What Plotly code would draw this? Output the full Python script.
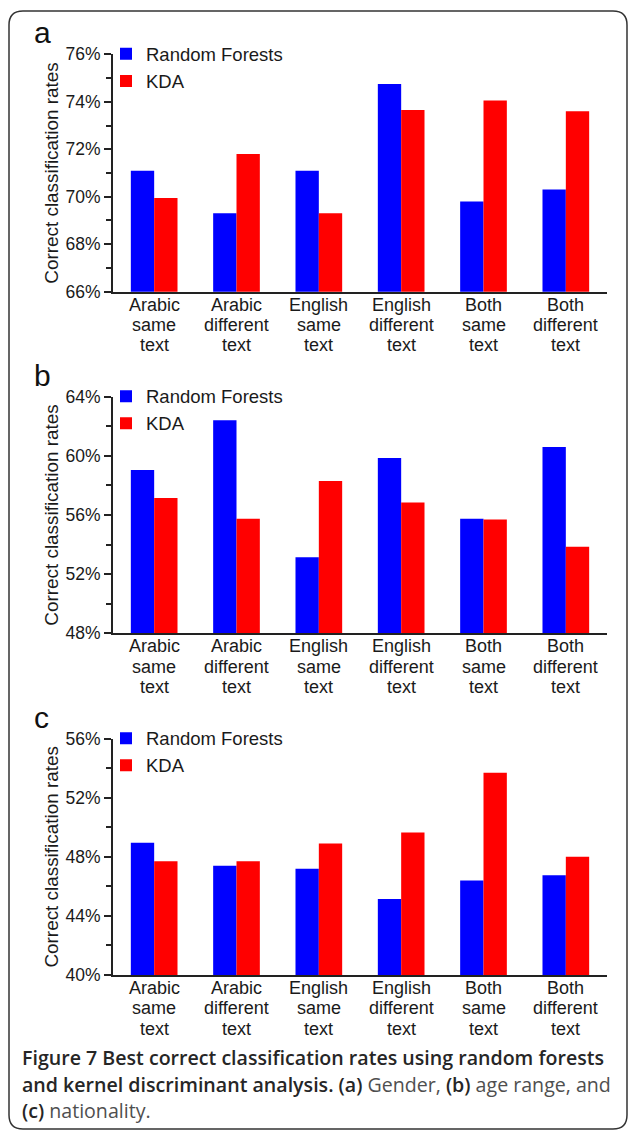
import plotly.graph_objects as go

W, H = 629, 1131

categories = ["Arabic same text", "Arabic different text", "English same text",
              "English different text", "Both same text", "Both different text"]
label_lines = [["Arabic", "same", "text"], ["Arabic", "different", "text"],
               ["English", "same", "text"], ["English", "different", "text"],
               ["Both", "same", "text"], ["Both", "different", "text"]]

series_names = ["Random Forests", "KDA"]
colors = ["#0000FF", "#FF0000"]

# (a) Gender
gender_rf = [71.1, 69.3, 71.1, 74.75, 69.8, 70.3]
gender_kda = [69.95, 71.8, 69.3, 73.65, 74.05, 73.6]
# (b) Age range
age_rf = [59.05, 62.4, 53.15, 59.85, 55.75, 60.6]
age_kda = [57.15, 55.75, 58.3, 56.85, 55.7, 53.85]
# (c) Nationality
nat_rf = [48.95, 47.4, 47.2, 45.15, 46.4, 46.75]
nat_kda = [47.7, 47.7, 48.9, 49.65, 53.7, 48.0]

panel_letters = ["a", "b", "c"]
y_ranges = [[66, 76], [48, 64], [40, 56]]
major_dticks = [2, 4, 4]
minor_dticks = [1, 2, 2]
panels = [(gender_rf, gender_kda), (age_rf, age_kda), (nat_rf, nat_kda)]

def py(p):
    return 1 - p / H

def px(p):
    return p / W

x_dom = [px(113), px(607)]
y_doms = [[py(291.7), py(54.3)], [py(633.3), py(396.7)], [py(975), py(738.7)]]

fig = go.Figure()
font_main = "Liberation Sans, Arial, sans-serif"
ink = "#1a1a1a"

for i, (rf, kda) in enumerate(panels):
    sfx = "" if i == 0 else str(i + 1)
    leg = "legend" if i == 0 else "legend" + str(i + 1)
    for name, vals, col in zip(series_names, (rf, kda), colors):
        fig.add_trace(go.Bar(
            x=categories, y=vals, name=name, marker=dict(color=col, line=dict(width=0)),
            xaxis="x" + sfx, yaxis="y" + sfx, legend=leg, showlegend=True,
            hoverinfo="x+y",
        ))

layout = dict(
    width=W, height=H, margin=dict(l=0, r=0, t=0, b=0, autoexpand=False),
    paper_bgcolor="white", plot_bgcolor="white",
    barmode="group", bargap=0.433, bargroupgap=0,
    font=dict(family=font_main, color=ink, size=18),
    showlegend=True,
)

annotations = []
for i in range(3):
    sfx = "" if i == 0 else str(i + 1)
    layout["xaxis" + sfx] = dict(
        domain=x_dom, anchor="y" + sfx, type="category",
        categoryorder="array", categoryarray=categories,
        range=[-0.5, 5.5], showticklabels=False, ticks="",
        showline=True, linecolor="#222222", linewidth=2, showgrid=False,
        zeroline=False, fixedrange=True,
    )
    layout["yaxis" + sfx] = dict(
        domain=y_doms[i], anchor="x" + sfx, range=y_ranges[i],
        dtick=major_dticks[i], tick0=y_ranges[i][0], ticksuffix="%",
        ticks="outside", ticklen=7, tickwidth=1.5, tickcolor="#222222",
        minor=dict(ticks="outside", dtick=minor_dticks[i], tick0=y_ranges[i][0],
                   ticklen=5, tickwidth=1.5, tickcolor="#222222", showgrid=False),
        showline=True, linecolor="#222222", linewidth=2, showgrid=False,
        zeroline=False, tickfont=dict(size=17.5, color=ink, family=font_main),
        title=dict(text="Correct classification rates", standoff=2,
                   font=dict(size=18.9, color=ink, family=font_main)),
        fixedrange=True,
    )
    leg = "legend" if i == 0 else "legend" + str(i + 1)
    layout[leg] = dict(
        x=px(106), xanchor="left", y=y_doms[i][1] + 19 / H, yanchor="top",
        bgcolor="rgba(0,0,0,0)", borderwidth=0, tracegroupgap=0,
        font=dict(size=18.5, color=ink, family=font_main), itemclick=False,
    )
    # panel letter
    annotations.append(dict(
        text=panel_letters[i], xref="paper", x=px(32), xanchor="left",
        yref="y" + sfx + " domain", y=1, yanchor="bottom", yshift=3,
        showarrow=False, font=dict(size=30, color="#111111", family=font_main),
    ))
    # category labels, one line each
    for c, lines in zip(categories, label_lines):
        for k, word in enumerate(lines):
            annotations.append(dict(
                text=word, xref="x" + sfx, x=c, yref="y" + sfx + " domain", y=0,
                yanchor="middle", yshift=-(13 + 20.4 * k), showarrow=False,
                font=dict(size=18, color=ink, family=font_main),
            ))

# caption
cap_font = "Open Sans, Noto Sans, sans-serif"
B = '<span style="font-weight:600;color:#262626">'
N = '<span style="color:#4f4f4f">'
E = '</span>'
cap_lines = [
    B + "Figure 7 Best correct classification rates using random forests" + E,
    B + "and kernel discriminant analysis. (a)" + E + N + " Gender, " + E + B + "(b)" + E
    + N + " age range, and" + E,
    B + "(c)" + E + N + " nationality." + E,
]
cap_y = [1057, 1084, 1110]
for t, yy in zip(cap_lines, cap_y):
    annotations.append(dict(
        text=t, xref="paper", x=px(20), xanchor="left", yref="paper", y=py(yy),
        yanchor="middle", showarrow=False, align="left",
        font=dict(size=19.6, color="#4d4d4d", family=cap_font),
    ))
layout["annotations"] = annotations

# rounded frame
x0, x1, y0, y1, r = 9, 627, 11, 1129, 14
def P(x, y):
    return f"{px(x):.5f},{py(y):.5f}"
path = (f"M {P(x0, y0 + r)} Q {P(x0, y0)} {P(x0 + r, y0)} L {P(x1 - r, y0)} "
        f"Q {P(x1, y0)} {P(x1, y0 + r)} L {P(x1, y1 - r)} Q {P(x1, y1)} {P(x1 - r, y1)} "
        f"L {P(x0 + r, y1)} Q {P(x0, y1)} {P(x0, y1 - r)} Z")
layout["shapes"] = [dict(type="path", xref="paper", yref="paper", path=path,
                         line=dict(color="#333333", width=1.5))]

fig.update_layout(**layout)
fig.write_html(
    "out.html",
    config={"displayModeBar": False},
    post_script="document.body.style.margin='0';document.body.style.overflow='hidden';",
)
